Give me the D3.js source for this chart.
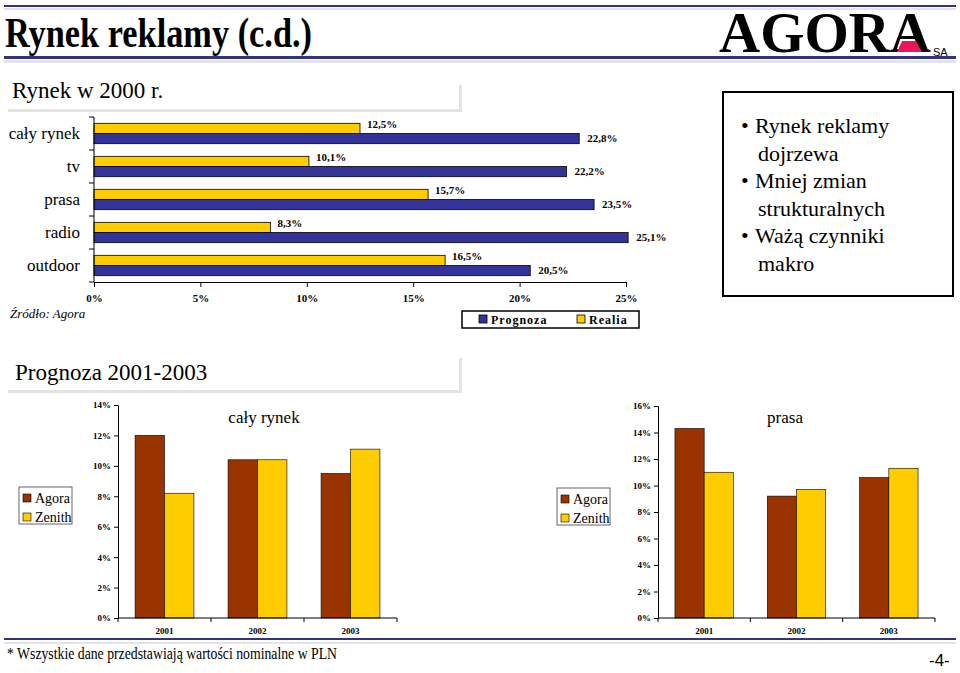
<!DOCTYPE html>
<html>
<head>
<meta charset="utf-8">
<script src="https://cdn.jsdelivr.net/npm/d3@7"></script>
<style>
  body { margin:0; background:#fff; }
  text { font-family: "Liberation Serif", "Times New Roman", serif; }
</style>
</head>
<body>
<script>
// dane: rynek w 2000 r.
var kategorie = ["cały rynek", "tv", "prasa", "radio", "outdoor"];
var prognoza = [22.8, 22.2, 23.5, 25.1, 20.5];
var realia = [12.5, 10.1, 15.7, 8.3, 16.5];
var ticks2000 = [0, 5, 10, 15, 20, 25];

// dane: prognoza 2001-2003
var lata = ["2001", "2002", "2003"];
var calyAgora = [12.0, 10.4, 9.5];
var calyZenith = [8.2, 10.4, 11.1];
var prasaAgora = [14.3, 9.2, 10.6];
var prasaZenith = [11.0, 9.7, 11.3];
var ticksCaly = [0, 2, 4, 6, 8, 10, 12, 14];
var ticksPrasa = [0, 2, 4, 6, 8, 10, 12, 14, 16];

var navy = "#33337f", shade = "#e4e4e4";
var cBlue = "#333399", cYellow = "#ffcc00", cBrown = "#993300";

var svg = d3.select("body").append("svg")
  .attr("width", 960).attr("height", 673);

svg.append("rect").attr("width", 960).attr("height", 673).attr("fill", "#fff");

// naglowek
svg.append("rect").attr("x", 4).attr("y", 8).attr("width", 952).attr("height", 2).attr("fill", shade);
svg.append("rect").attr("x", 4).attr("y", 5).attr("width", 952).attr("height", 2).attr("fill", navy);
svg.append("rect").attr("x", 4).attr("y", 60).attr("width", 952).attr("height", 3).attr("fill", shade);
svg.append("rect").attr("x", 4).attr("y", 56).attr("width", 952).attr("height", 3).attr("fill", navy);

svg.append("text").attr("x", 5).attr("y", 47)
  .attr("font-size", 43).attr("font-weight", "bold")
  .attr("textLength", 307).attr("lengthAdjust", "spacingAndGlyphs")
  .text("Rynek reklamy (c.d.)");

// logo
svg.append("text").attr("x", 719).attr("y", 52)
  .attr("font-size", 56).attr("font-weight", "bold")
  .attr("textLength", 212).attr("lengthAdjust", "spacingAndGlyphs")
  .text("AGORA");
svg.append("polygon").attr("points", "897,52 922,52 916,41 902,41").attr("fill", "#e8175d");
svg.append("text").attr("x", 933).attr("y", 56)
  .style("font-family", "'Liberation Sans', Arial, sans-serif")
  .attr("font-size", 11).text("SA");

// sekcja 1
function heading(txt, x, y, boxTop, boxBottom) {
  svg.append("rect").attr("x", 8).attr("y", boxBottom - 3).attr("width", 454).attr("height", 3).attr("fill", shade);
  svg.append("rect").attr("x", 459).attr("y", boxTop).attr("width", 3).attr("height", boxBottom - boxTop).attr("fill", shade);
  svg.append("text").attr("x", x).attr("y", y).attr("font-size", 23).text(txt);
}
heading("Rynek w 2000 r.", 12, 98, 85, 112);

var left = 94, top1 = 117;
var x = d3.scaleLinear().domain([0, 25]).range([0, 532]);
var y = d3.scaleBand().domain(kategorie).range([0, 165]);
var sub = d3.scaleBand().domain(["realia", "prognoza"]).range([0, y.bandwidth()]).paddingOuter(0.62);

var g = svg.append("g").attr("transform", "translate(" + left + "," + top1 + ")");

var rows = g.selectAll(".row").data(kategorie).enter().append("g")
  .attr("transform", function(d) { return "translate(0," + y(d) + ")"; });

rows.append("rect")
  .attr("x", 0).attr("y", sub("realia"))
  .attr("width", function(d, i) { return x(realia[i]); })
  .attr("height", sub.bandwidth())
  .attr("fill", cYellow).attr("stroke", "#000").attr("stroke-width", 0.8);
rows.append("rect")
  .attr("x", 0).attr("y", sub("prognoza"))
  .attr("width", function(d, i) { return x(prognoza[i]); })
  .attr("height", sub.bandwidth())
  .attr("fill", cBlue).attr("stroke", "#000").attr("stroke-width", 0.8);

rows.append("text")
  .attr("x", function(d, i) { return x(realia[i]) + 7; })
  .attr("y", sub("realia") + 1).attr("dy", "0.35em")
  .attr("font-size", 11).attr("font-weight", "bold")
  .text(function(d, i) { return String(realia[i]).replace(".", ",") + "%"; });
rows.append("text")
  .attr("x", function(d, i) { return x(prognoza[i]) + 8; })
  .attr("y", sub("prognoza") + sub.bandwidth() / 2).attr("dy", "0.35em")
  .attr("font-size", 11).attr("font-weight", "bold")
  .text(function(d, i) { return String(prognoza[i]).replace(".", ",") + "%"; });

rows.append("text")
  .attr("x", -14).attr("y", y.bandwidth() / 2).attr("dy", "0.35em")
  .attr("text-anchor", "end").attr("font-size", 17)
  .text(function(d) { return d; });

// os Y (podzialki na granicach kategorii)
var yTicks = kategorie.map(function(d) { return y(d); }).concat([165]);
g.append("line").attr("x1", 0).attr("x2", 0).attr("y1", 0).attr("y2", 165).attr("stroke", "#000");
g.selectAll(".yt").data(yTicks).enter().append("line")
  .attr("x1", -5).attr("x2", 0)
  .attr("y1", function(d) { return d; }).attr("y2", function(d) { return d; })
  .attr("stroke", "#000");

var xAxis = g.append("g").attr("transform", "translate(0,165)")
  .call(d3.axisBottom(x).tickValues(ticks2000).tickSize(5).tickFormat(function(d) { return d + "%"; }));
xAxis.select(".domain").attr("stroke", "#000");
xAxis.selectAll("text").attr("font-family", "'Liberation Serif', serif")
  .attr("font-size", 11).attr("font-weight", "bold").attr("fill", "#000").attr("dy", "1.1em");

// legenda
svg.append("rect").attr("x", 462).attr("y", 311).attr("width", 177).attr("height", 17)
  .attr("fill", "#fff").attr("stroke", "#000").attr("stroke-width", 1.5);
svg.append("rect").attr("x", 479).attr("y", 315).attr("width", 8).attr("height", 8)
  .attr("fill", cBlue).attr("stroke", "#000").attr("stroke-width", 0.8);
svg.append("text").attr("x", 491).attr("y", 324).attr("font-size", 12).attr("font-weight", "bold")
  .attr("letter-spacing", 1).text("Prognoza");
svg.append("rect").attr("x", 577).attr("y", 315).attr("width", 8).attr("height", 8)
  .attr("fill", cYellow).attr("stroke", "#000").attr("stroke-width", 0.8);
svg.append("text").attr("x", 589).attr("y", 324).attr("font-size", 12).attr("font-weight", "bold")
  .attr("letter-spacing", 1).text("Realia");

svg.append("text").attr("x", 10).attr("y", 318).attr("font-size", 13).attr("font-style", "italic")
  .text("Źródło: Agora");

// ramka z tekstem
svg.append("rect").attr("x", 723).attr("y", 92).attr("width", 230).attr("height", 204)
  .attr("fill", "none").attr("stroke", "#000").attr("stroke-width", 2);
var punkty = [["•", "Rynek reklamy"], ["", "dojrzewa"], ["•", "Mniej zmian"], ["", "strukturalnych"], ["•", "Ważą czynniki"], ["", "makro"]];
punkty.forEach(function(p, i) {
  var yy = 133 + i * 27.5;
  if (p[0]) svg.append("text").attr("x", 741).attr("y", yy).attr("font-size", 22).text(p[0]);
  svg.append("text").attr("x", p[0] ? 755 : 758).attr("y", yy).attr("font-size", 22).text(p[1]);
});

// sekcja 2
heading("Prognoza 2001-2003", 15, 380, 358, 393);

function drawChart(o) {
  var w = o.x1 - o.x0, h = o.y0 - o.yTop;
  var xb = d3.scaleBand().domain(lata).range([0, w]);
  var xs = d3.scaleBand().domain(["Agora", "Zenith"]).range([0, xb.bandwidth()]).paddingOuter(0.58);
  var ys = d3.scaleLinear().domain([0, o.max]).range([h, 0]);
  var gg = svg.append("g").attr("transform", "translate(" + o.x0 + "," + o.yTop + ")");

  var grp = gg.selectAll(".grp").data(lata).enter().append("g")
    .attr("transform", function(d) { return "translate(" + xb(d) + ",0)"; });
  grp.append("rect")
    .attr("x", xs("Agora")).attr("width", xs.bandwidth())
    .attr("y", function(d, i) { return ys(o.agora[i]); })
    .attr("height", function(d, i) { return h - ys(o.agora[i]); })
    .attr("fill", cBrown).attr("stroke", "#000").attr("stroke-width", 0.6);
  grp.append("rect")
    .attr("x", xs("Zenith")).attr("width", xs.bandwidth())
    .attr("y", function(d, i) { return ys(o.zenith[i]); })
    .attr("height", function(d, i) { return h - ys(o.zenith[i]); })
    .attr("fill", cYellow).attr("stroke", "#000").attr("stroke-width", 0.6);
  grp.append("text")
    .attr("x", xb.bandwidth() / 2).attr("y", h + 16)
    .attr("text-anchor", "middle").attr("font-size", 9).attr("font-weight", "bold")
    .text(function(d) { return d; });

  var ya = gg.append("g")
    .call(d3.axisLeft(ys).tickValues(o.ticks).tickSize(4).tickFormat(function(d) { return d + "%"; }));
  ya.select(".domain").attr("stroke", "#000");
  ya.selectAll("text").attr("font-family", "'Liberation Serif', serif")
    .attr("font-size", 9).attr("font-weight", "bold").attr("fill", "#000");

  gg.append("line").attr("x1", 0).attr("x2", w).attr("y1", h).attr("y2", h).attr("stroke", "#000");
  var bt = lata.map(function(d) { return xb(d); }).concat([w]);
  gg.selectAll(".xt").data(bt).enter().append("line")
    .attr("x1", function(d) { return d; }).attr("x2", function(d) { return d; })
    .attr("y1", h).attr("y2", h + 4).attr("stroke", "#000");

  svg.append("text").attr("x", o.titleX).attr("y", 423).attr("text-anchor", "middle")
    .attr("font-size", 17).text(o.title);

  // legenda
  svg.append("rect").attr("x", o.legX).attr("y", o.legY).attr("width", 53).attr("height", 37)
    .attr("fill", "#fff").attr("stroke", "#666").attr("stroke-width", 1);
  [["Agora", cBrown], ["Zenith", cYellow]].forEach(function(l, i) {
    svg.append("rect").attr("x", o.legX + 4).attr("y", o.legY + 7 + i * 19).attr("width", 8).attr("height", 8)
      .attr("fill", l[1]).attr("stroke", "#000").attr("stroke-width", 0.6);
    svg.append("text").attr("x", o.legX + 16).attr("y", o.legY + 16 + i * 19)
      .attr("font-size", 14).text(l[0]);
  });
}

drawChart({x0: 118, x1: 397, yTop: 405, y0: 618, max: 14, ticks: ticksCaly,
  agora: calyAgora, zenith: calyZenith, title: "cały rynek", titleX: 264, legX: 19, legY: 487});
drawChart({x0: 658, x1: 935, yTop: 406, y0: 618, max: 16, ticks: ticksPrasa,
  agora: prasaAgora, zenith: prasaZenith, title: "prasa", titleX: 785, legX: 557, legY: 488});

// stopka
svg.append("rect").attr("x", 4).attr("y", 642).attr("width", 952).attr("height", 2).attr("fill", shade);
svg.append("rect").attr("x", 4).attr("y", 638).attr("width", 952).attr("height", 2).attr("fill", navy);
svg.append("text").attr("x", 7).attr("y", 659).attr("font-size", 17)
  .attr("textLength", 330).attr("lengthAdjust", "spacingAndGlyphs")
  .text("* Wszystkie dane przedstawiają wartości nominalne w PLN");
svg.append("text").attr("x", 929).attr("y", 666)
  .style("font-family", "'Liberation Sans', Arial, sans-serif")
  .attr("font-size", 17).text("-4-");
</script>
</body>
</html>
